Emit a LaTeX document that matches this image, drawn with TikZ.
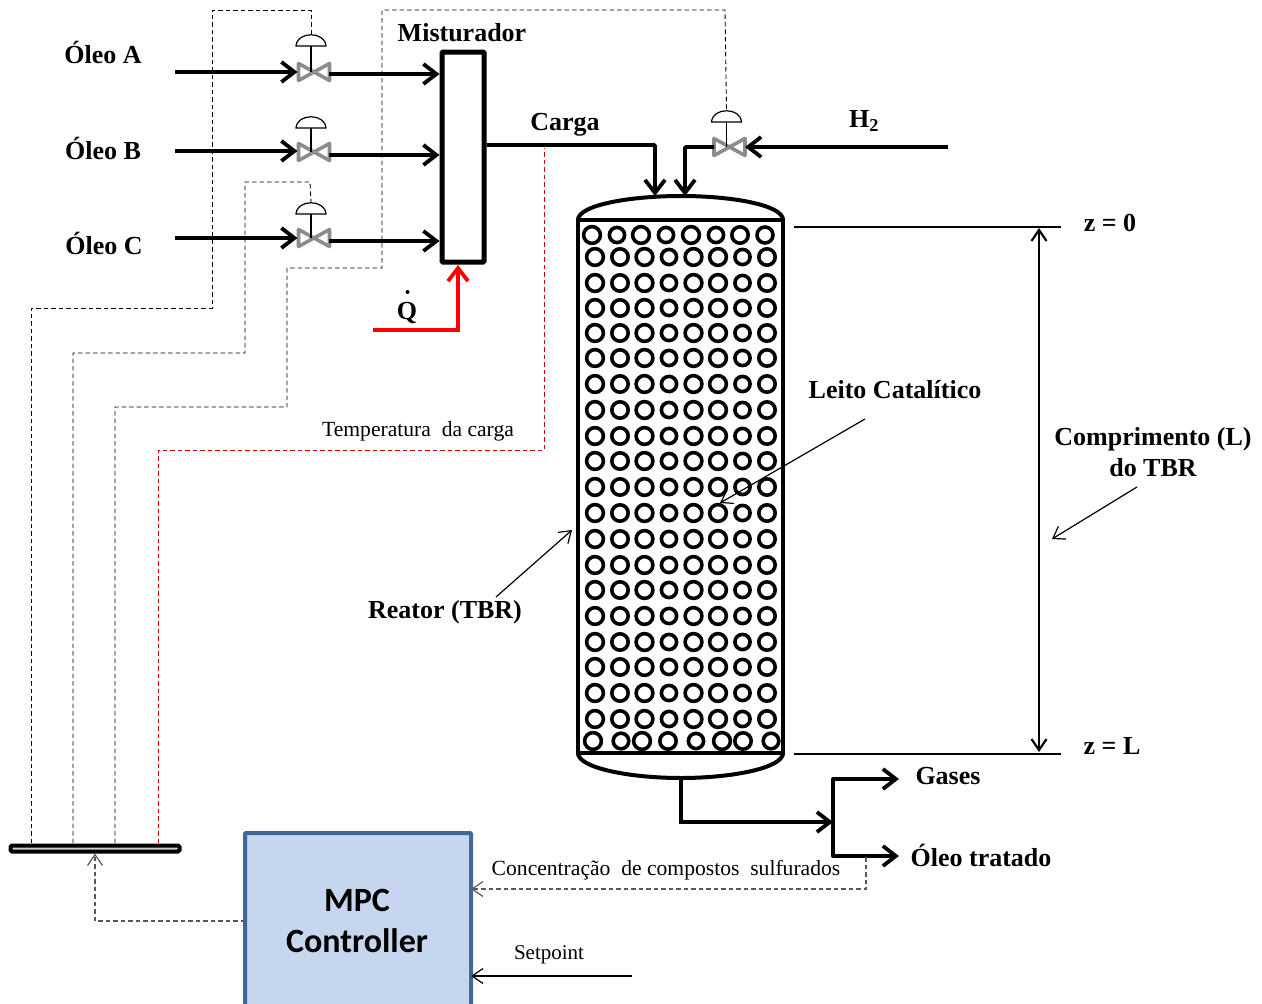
\documentclass[tikz,border=0pt]{standalone}
\usepackage{fontspec}
\setmainfont{Liberation Serif}
\newfontfamily\ctrlfont{Carlito}
\usetikzlibrary{arrows.meta,calc}

\begin{document}
\begin{tikzpicture}[x=1pt,y=-1pt,
    rotulo/.style={font=\fontsize{26}{31}\selectfont\bfseries,inner sep=0pt},
    texto/.style={font=\fontsize{21.6}{26}\selectfont,inner sep=0pt},
    flow/.style={line width=3.8pt,-{Straight Barb[length=13pt,width=20pt,line width=3.8pt]}},
    plain/.style={line width=3.8pt},
    sinal/.style={line width=0.9pt,dash pattern=on 4.5pt off 3pt},
    seta/.style={line width=1.2pt,-{Straight Barb[length=11pt,width=15pt,line width=1.2pt]}},
    valvebox/.style={minimum width=31pt,minimum height=17pt,inner sep=0pt,outer sep=0pt}]
    % Definição de cores
    \colorlet{valvecolor}{black!45}
    \colorlet{redcolor}{red!80!black}
    \colorlet{greycolor}{black!65}
    \definecolor{ctrlfill}{RGB}{198,214,238}
    \definecolor{ctrldraw}{RGB}{64,103,150}

    \useasboundingbox (0,0) rectangle (1262,1004);

    % Misturador
    \node[draw,line width=5pt,rounded corners=1pt,minimum width=42pt,minimum height=210pt,inner sep=0pt] (mix) at (463,157) {};
    \node[rotulo] (misturador) at (462,33) {Misturador};

    % Válvulas
    \node[valvebox] (valveA) at (314,72) {};
    \node[valvebox] (valveB) at (314,152) {};
    \node[valvebox] (valveC) at (314,238) {};
    \node[valvebox] (valveH) at (729.5,147) {};
    \foreach \v/\h in {valveA/38,valveB/36,valveC/36,valveH/37}
    {
        \draw[valvecolor,line width=3.6pt,line join=round] (\v.north west) -- (\v.south east) -- (\v.north east) -- (\v.south west) -- cycle;
        \coordinate (top\v) at ($(\v)+(-3,-\h)$);
        \draw[line width=1.2pt] ($(\v)+(-3,0)$) -- ($(top\v)+(0,12)$);
        \draw[line width=1.2pt] ($(top\v)+(-15,12)$) .. controls ($(top\v)+(-14,-3)$) and ($(top\v)+(14,-3)$) .. ($(top\v)+(15,12)$) -- cycle;
    }

    % Entradas de óleo
    \foreach \n/\y/\ys/\yl/\xl in {A/72/74/52/103,B/151/155/148/103,C/238/241/243/104}
    {
        \node[rotulo] (oleo\n) at (\xl,\yl) {Óleo \n};
        \coordinate (in\n) at (175,\y);
        \coordinate (out\n) at (329,\ys);
        \draw[flow] (in\n) -- ($(in\n -| valve\n.west)+(-1,0)$);
        \draw[flow] (out\n) -- (out\n -| mix.west);
    }

    % Reator
    \node[draw,line width=4.5pt,minimum width=205pt,minimum height=533pt,inner sep=0pt,outer sep=0pt] (reator) at (680.5,486.5) {};
    \draw[line width=4pt] (reator.north west) .. controls (578,205) and (630,196) .. (681,196) .. controls (732,196) and (783,205) .. (reator.north east);
    \draw[line width=4pt] (reator.south west) .. controls (578,768) and (630,778) .. (681,778) .. controls (732,778) and (783,768) .. (reator.south east);

    % Leito catalítico
    \foreach \y in {257,283,308,333,358,384,410,436,461,487,513,539,565,590,616,642,667,693,719}
    {
        \foreach \x/\r in {595/8.4,620/8.2,644.5/8.4,669/7.6,693.5/8.4,718/8.4,742.5/7.6,767/8.2}
        {
            \draw[line width=3.6pt] (\x,\y) circle (\r);
        }
    }
    \foreach \x/\r in {592/8.4,617/7.6,641/8.4,666/7.6,691/8.4,716/7.6,740/8.2,765/8}
    {
        \draw[line width=3.6pt] (\x,235) circle (\r);
    }
    \foreach \x/\r in {593/8.4,621/7.8,642/8.4,668/8.2,696/7.6,722/8.4,743/8.2,771/7.8}
    {
        \draw[line width=3.6pt] (\x,741) circle (\r);
    }

    % Carga e hidrogênio
    \node[rotulo] (carga) at (565,125) {Carga};
    \node[rotulo] (h2) at (864,121) {H\textsubscript{2}};
    \coordinate (entradaC) at (655,196);
    \coordinate (entradaH) at (685,196);
    \coordinate (fonteH) at (948,147);
    \draw[flow,rounded corners=1pt] (mix.east |- 0,145) -| (entradaC);
    \draw[flow] (fonteH) -- (valveH.east);
    \draw[flow,rounded corners=1pt] (valveH.west) -| (entradaH);

    % Calor
    \coordinate (fonteQ) at (373,330);
    \coordinate (entradaQ) at (458,265);
    \node[rotulo] (q) at (407,313) {Q};
    \fill (407.5,292) circle (2);
    \draw[red,line width=3.8pt,-{Straight Barb[length=13pt,width=20pt,line width=3.8pt]}] (fonteQ) -| (entradaQ);

    % Saída do reator
    \coordinate (noSaida) at (833,822);
    \coordinate (saidaGases) at (899,779);
    \coordinate (saidaOleo) at (899,856);
    \draw[flow] (reator.south -| 681,0) ++(0,25) |- (noSaida);
    \draw[flow] (noSaida |- saidaGases) -- (saidaGases);
    \draw[flow] (noSaida |- saidaOleo) -- (saidaOleo);
    \draw[plain,line cap=round] (noSaida |- saidaGases) -- (noSaida |- saidaOleo);
    \node[rotulo] (gases) at (948,776) {Gases};
    \node[rotulo] (oleot) at (981,855) {Óleo tratado};

    % Controlador
    \node[draw=ctrldraw,fill=ctrlfill,line width=4pt,rounded corners=1pt,minimum width=226pt,minimum height=180pt,inner sep=0pt,outer sep=0pt] (mpc) at (358,923) {};
    \node[font=\ctrlfont\fontsize{34}{41}\selectfont\bfseries,align=center,inner sep=0pt] (mpctxt) at (357,921) {MPC\\Controller};

    % Barra de atuação
    \node[draw=black,fill=black!20,line width=4pt,rounded corners=1.5pt,minimum width=169pt,minimum height=6pt,inner sep=0pt] (barra) at (95,848.5) {};
    \coordinate (tapA) at (31,843);
    \coordinate (tapC) at (73,843);
    \coordinate (tapH) at (115,843);
    \coordinate (tapT) at (158,843);

    % Sinais de controle
    \draw[sinal] (tapA) |- (212,308) |- (311,10) -- (topvalveA);
    \draw[sinal] (tapC) |- (245,353) |- (310,182) -- (topvalveC);
    \draw[sinal] (tapH) |- (287,407) |- (382,268) |- (725,10) -- (topvalveH);
    \draw[sinal,redcolor] (tapT) |- (544,450) -- (544,148);
    \draw[seta,greycolor,dash pattern=on 4.5pt off 3pt] (mpc.west |- 0,921) -| (barra.south);

    % Analisador
    \coordinate (tomada) at (866,857);
    \draw[seta,greycolor,dash pattern=on 4.5pt off 3pt] (tomada) |- (mpc.east |- 0,889);
    \coordinate (fonteSet) at (632,976);
    \draw[seta] (fonteSet) -- (fonteSet -| mpc.east);
    \node[texto] (temperatura) at (418,431) {Temperatura\ \ da carga};
    \node[texto] (concentracao) at (666,870) {Concentração\ \ de compostos\ \ sulfurados};
    \node[texto,font=\fontsize{21}{26}\selectfont] (setpoint) at (549,955) {Setpoint};

    % Rótulos do reator
    \node[rotulo] (leito) at (895,390) {Leito Catalítico};
    \node[rotulo] (tbr) at (445,612) {Reator (TBR)};
    \node[rotulo,align=center] (comprimento) at (1153,452) {Comprimento (L)\\do TBR};
    \node[rotulo] (z0) at (1110,223) {z = 0};
    \node[rotulo] (zL) at (1112,746) {z = L};
    \coordinate (linhaA) at (794,227);
    \coordinate (linhaB) at (794,754);
    \draw[line width=1.2pt] (linhaA) -- (1061,227);
    \draw[line width=1.2pt] (linhaB) -- (1061,754);
    \draw[line width=2.2pt,{Straight Barb[length=11pt,width=15pt,line width=2.2pt]}-{Straight Barb[length=11pt,width=15pt,line width=2.2pt]}] (1039,228) -- (1039,752);
    \draw[seta] (865,419) -- (720,503);
    \draw[seta] (496,597) -- (572,530);
    \draw[seta] (1137,487) -- (1052,539);
\end{tikzpicture}
\end{document}
